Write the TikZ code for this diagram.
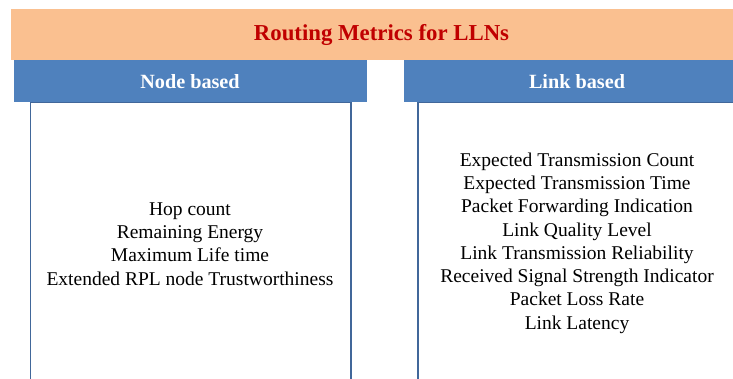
\documentclass[tikz,border=0pt]{standalone}
\usepackage{fontspec}
\setmainfont{Liberation Serif}
\definecolor{bannerorange}{HTML}{FAC090}
\definecolor{headblue}{HTML}{4F81BD}
\definecolor{titlered}{HTML}{C00000}
\definecolor{boxline}{HTML}{41679A}
\begin{document}
\begin{tikzpicture}[x=1pt,y=-1pt,
  banner/.style={fill=bannerorange,draw=none},
  header/.style={fill=headblue,draw=none},
  headtext/.style={text=white,font=\fontsize{20.2}{23}\selectfont\bfseries,inner sep=0pt},
  titletext/.style={text=titlered,font=\fontsize{22.8}{26}\selectfont\bfseries,inner sep=0pt},
  listtext/.style={align=center,font=\fontsize{19.5}{23.3}\selectfont,inner sep=0pt},
  frame/.style={draw=boxline,line width=1.8pt}]
\useasboundingbox (0,0) rectangle (733,378);
\clip (0,0) rectangle (733,378);
\fill[white] (0,0) rectangle (733,378);
% banner
\path[banner] (11,9) rectangle (760,60);
\node[titletext] (title) at (381.5,35) {Routing Metrics for LLNs};
% frames
\draw[frame] (30.5,380) -- (30.5,102) -- (351,102) -- (351,380);
\draw[frame] (418,380) -- (418,102) -- (740,102) -- (740,380);
% headers
\path[header] (13.5,60) rectangle (366.5,101.5);
\path[header] (404,60) rectangle (760,101.5);
\node[headtext] (nodehead) at (190,82) {Node based};
\node[headtext] (linkhead) at (577,82) {Link based};
% lists
\node[listtext] (nodelist) at (190,244) {Hop count\\Remaining Energy\\Maximum Life time\\Extended RPL node Trustworthiness};
\node[listtext] (linklist) at (577,243) {Expected Transmission Count\\Expected Transmission Time\\Packet Forwarding Indication\\Link Quality Level\\Link Transmission Reliability\\Received Signal Strength Indicator\\Packet Loss Rate\\Link Latency};
\end{tikzpicture}
\end{document}
